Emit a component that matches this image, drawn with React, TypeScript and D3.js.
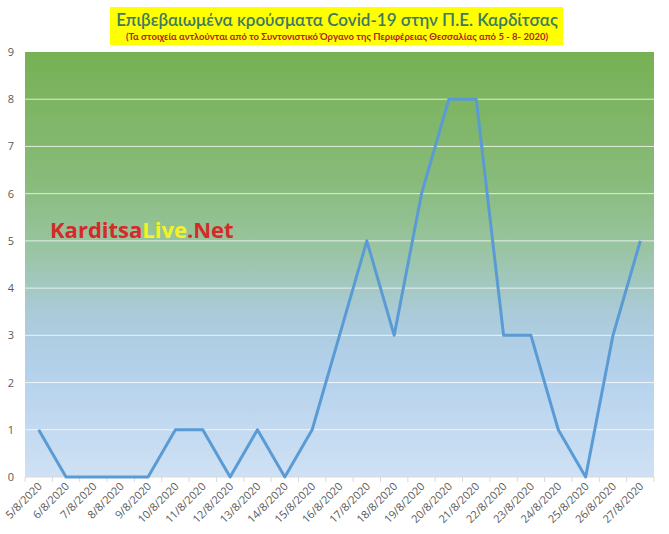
import React from "react";
import * as d3 from "d3";

const categories = ["5/8/2020","6/8/2020","7/8/2020","8/8/2020","9/8/2020","10/8/2020","11/8/2020","12/8/2020","13/8/2020","14/8/2020","15/8/2020","16/8/2020","17/8/2020","18/8/2020","19/8/2020","20/8/2020","21/8/2020","22/8/2020","23/8/2020","24/8/2020","25/8/2020","26/8/2020","27/8/2020"];
const cases = [1,0,0,0,0,1,1,0,1,0,1,3,5,3,6,8,8,3,3,1,0,3,5];
const yTicks = [0,1,2,3,4,5,6,7,8,9];
const title = "Επιβεβαιωμένα κρούσματα Covid-19 στην Π.Ε. Καρδίτσας";
const subtitle = "(Τα στοιχεία αντλούνται από το Συντονιστικό Όργανο της Περιφέρειας Θεσσαλίας από 5 - 8- 2020)";

const W = 669, H = 534;
const L = 25, R = 654, T = 52, B = 477;

export default function App() {
  const x = d3.scaleBand<string>().domain(categories).range([L, R]);
  const y = d3.scaleLinear().domain([0, 9]).range([B, T]);
  const line = d3.line<number>()
    .x((_, i) => (x(categories[i]) as number) + x.bandwidth() / 2)
    .y((d) => y(d));
  const font = "'Open Sans', 'Liberation Sans', sans-serif";
  return (
    <svg width={W} height={H} style={{ position: "absolute", left: 0, top: 0 }} fontFamily={font}>
      <defs>
        <linearGradient id="bg" x1="0" y1="0" x2="0" y2="1">
          <stop offset="0%" stopColor="#76b153" />
          <stop offset="30%" stopColor="#88bb7a" />
          <stop offset="45%" stopColor="#98c49e" />
          <stop offset="62%" stopColor="#abcbdb" />
          <stop offset="75%" stopColor="#b4d1ec" />
          <stop offset="100%" stopColor="#cfe1f4" />
        </linearGradient>
      </defs>
      <rect x={0} y={0} width={W} height={H} fill="#ffffff" />
      <rect x={L} y={T} width={R - L} height={B - T} fill="url(#bg)" />
      {yTicks.filter((t) => t > 0 && t < 9).map((t) => (
        <line key={t} x1={L} x2={R} y1={y(t)} y2={y(t)} stroke="#ffffff" strokeOpacity={0.75} strokeWidth={1} />
      ))}
      {yTicks.map((t) => (
        <text key={t} x={14} y={y(t) + 4} textAnchor="end" fontSize={11} fill="#595959">{t}</text>
      ))}
      <line x1={L} x2={R} y1={B} y2={B} stroke="#d9d9d9" />
      {categories.concat([""]).map((c, i) => {
        const xx = L + i * x.step();
        return <line key={"t" + i} x1={xx} x2={xx} y1={B} y2={B + 5} stroke="#d9d9d9" />;
      })}
      {categories.map((c) => {
        const cx = (x(c) as number) + x.bandwidth() / 2 + 4;
        const cy = 487;
        return (
          <text key={c} x={cx} y={cy} textAnchor="end" fontSize={11} fill="#595959" transform={`rotate(-45 ${cx} ${cy})`}>{c}</text>
        );
      })}
      <path d={line(cases) || ""} fill="none" stroke="#5b9bd5" strokeWidth={3} strokeLinejoin="round" />
      <rect x={110} y={7} width={453} height={38} fill="#ffff00" />
      <text x={337} y={26} textAnchor="middle" fontSize={17} fontWeight={600} fill="#3d7a63" fontFamily="Lato, 'Open Sans', sans-serif">{title}</text>
      <text x={337} y={40} textAnchor="middle" fontSize={9.5} fontWeight="bold" fill="#b22222" fontFamily="Lato, 'Open Sans', sans-serif">{subtitle}</text>
      <text x={50} y={238} fontSize={22} fontWeight="bold" fontFamily="'Open Sans', 'DejaVu Sans', sans-serif">
        <tspan fill="#d42a2a">Karditsa</tspan>
        <tspan fill="#f2f22a">Live</tspan>
        <tspan fill="#d42a2a">.Net</tspan>
      </text>
    </svg>
  );
}
